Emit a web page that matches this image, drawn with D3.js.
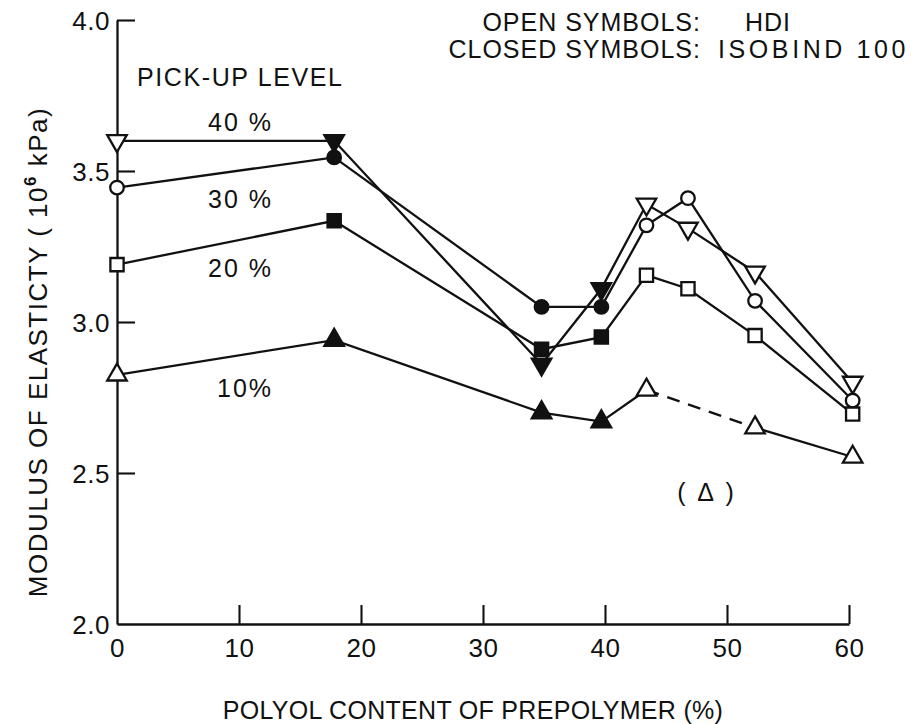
<!DOCTYPE html>
<html>
<head>
<meta charset="utf-8">
<script src="https://cdn.jsdelivr.net/npm/d3@7"></script>
<style>
  html, body { margin: 0; padding: 0; background: #fff; }
  text { font-family: "Liberation Sans", Arial, sans-serif; fill: #111; }
</style>
</head>
<body>
<svg id="chart" width="920" height="724"></svg>
<script>
// ---- data ----
const polyol = [0, 17.8, 34.8, 39.7, 43.4, 46.8, 52.3, 60.3];   // % polyol content
const pickupLevels = ["40 %", "30 %", "20 %", "10%"];
const modulus40 = [3.60, 3.60, 2.86, 3.11, 3.39, 3.31, 3.165, 2.80];
const modulus30 = [3.445, 3.545, 3.05, 3.05, 3.32, 3.41, 3.07, 2.74];
const modulus20 = [3.19, 3.335, 2.91, 2.95, 3.155, 3.11, 2.955, 2.695];
const modulus10 = [2.825, 2.94, 2.70, 2.67, 2.775, null, 2.65, 2.553];
// which points are closed symbols (ISOBIND 100) vs open (HDI)
const closedFlags = [false, true, true, true, false, false, false, false];
const xTicks = [0, 10, 20, 30, 40, 50, 60];
const yTicks = [2.0, 2.5, 3.0, 3.5, 4.0];
const xTitle = "POLYOL CONTENT OF PREPOLYMER (%)";
const yTitle = "MODULUS OF ELASTICTY ( 10";
const yTitleSup = "6";
const yTitleEnd = " kPa)";
const headerLines = [["OPEN SYMBOLS:", "HDI"], ["CLOSED SYMBOLS:", "ISOBIND 100"]];
const pickupTitle = "PICK-UP LEVEL";
const bracketNote = "( \u0394 )";

const series = [
  { label: pickupLevels[0], values: modulus40, shape: "down" },
  { label: pickupLevels[1], values: modulus30, shape: "circle" },
  { label: pickupLevels[2], values: modulus20, shape: "square" },
  { label: pickupLevels[3], values: modulus10, shape: "up", dashedFrom: 4 }
];

// ---- layout ----
const svg = d3.select("#chart");
const x = d3.scaleLinear().domain([0, 60]).range([117, 849]);
const y = d3.scaleLinear().domain([2.0, 4.0]).range([624, 20]);
const ink = "#111";
const FONT = "'Liberation Sans', Arial, sans-serif";

// axes (ticks pointing inward)
const xAxis = d3.axisBottom(x).tickValues(xTicks).tickSizeInner(-19).tickSizeOuter(0)
  .tickFormat(d3.format("d"));
const gx = svg.append("g").attr("transform", `translate(0,${y(2.0)})`).call(xAxis);
const yAxis = d3.axisLeft(y).tickValues(yTicks).tickSizeInner(-18).tickSizeOuter(0)
  .tickFormat(d3.format(".1f"));
const gy = svg.append("g").attr("transform", `translate(${x(0)},0)`).call(yAxis);
[gx, gy].forEach(g => {
  g.select(".domain").attr("stroke", ink).attr("stroke-width", 2.3);
  g.selectAll(".tick line").attr("stroke", ink).attr("stroke-width", 2.1);
  g.selectAll(".tick text").style("font-size", "26px").attr("fill", ink)
    .style("font-family", FONT).style("letter-spacing", "0.5px");
});
gx.selectAll(".tick text").attr("y", 24).attr("dy", "0.35em");
gy.selectAll(".tick text").attr("x", -7).attr("dy", "0.35em");
gx.selectAll(".tick").filter(d => d === 0).select("line").remove();
gy.selectAll(".tick").filter(d => d === 2.0).select("line").remove();

// lines
const line = d3.line().defined(d => d.v != null).x(d => x(d.x)).y(d => y(d.v));
series.forEach(s => {
  const pts = s.values.map((v, i) => ({ x: polyol[i], v }));
  if (s.dashedFrom != null) {
    const solidA = pts.slice(0, s.dashedFrom + 1);
    const rest = pts.filter((p, i) => i >= s.dashedFrom && p.v != null);
    svg.append("path").datum(solidA).attr("d", line)
      .attr("fill", "none").attr("stroke", ink).attr("stroke-width", 2.3);
    svg.append("path").datum(rest.slice(0, 2)).attr("d", line)
      .attr("fill", "none").attr("stroke", ink).attr("stroke-width", 2.5)
      .attr("stroke-dasharray", "13,9");
    svg.append("path").datum(rest.slice(1)).attr("d", line)
      .attr("fill", "none").attr("stroke", ink).attr("stroke-width", 2.3);
  } else {
    svg.append("path").datum(pts).attr("d", line)
      .attr("fill", "none").attr("stroke", ink).attr("stroke-width", 2.3);
  }
});

// markers
const symFor = {
  down: d3.symbol().type(d3.symbolTriangle).size(165),
  up: d3.symbol().type(d3.symbolTriangle).size(165),
  circle: d3.symbol().type(d3.symbolCircle).size(145),
  square: d3.symbol().type(d3.symbolSquare).size(175)
};
series.forEach(s => {
  s.values.forEach((v, i) => {
    if (v == null) return;
    const closed = closedFlags[i];
    svg.append("path")
      .attr("d", symFor[s.shape]())
      .attr("transform", `translate(${x(polyol[i])},${y(v)})` + (s.shape === "down" ? " rotate(180)" : ""))
      .attr("fill", closed ? ink : "#fff")
      .attr("stroke", ink).attr("stroke-width", 2.3);
  });
});

// annotations
const txt = (t, px, py, size, anchor, ls) => svg.append("text").attr("x", px).attr("y", py)
  .attr("text-anchor", anchor || "start").style("font-size", size + "px")
  .style("letter-spacing", (ls == null ? 1 : ls) + "px").text(t);

txt(pickupTitle, 137, 86, 25, "start", 1.6);
const levelPos = [[208, 131], [208, 208], [208, 277], [217, 397]];
series.forEach((s, i) => txt(s.label, levelPos[i][0], levelPos[i][1], 25, "start", 2));
txt(headerLines[0][0], 701, 31, 25, "end", 1);
txt(headerLines[0][1], 745, 31, 25, "start", 1);
txt(headerLines[1][0], 701, 58, 25, "end", 1);
txt(headerLines[1][1], 718, 58, 25, "start", 3.6);
txt(bracketNote, 707, 501, 25, "middle", 3);

// axis titles
txt(xTitle, 473, 719, 25, "middle", 0.3);
const yt = svg.append("text")
  .attr("transform", `translate(47,${352}) rotate(-90)`)
  .attr("text-anchor", "middle").style("font-size", "26px").style("letter-spacing", "1.5px");
yt.append("tspan").text(yTitle);
yt.append("tspan").attr("dy", -11).style("font-size", "17px").style("font-weight", "bold").text(yTitleSup);
yt.append("tspan").attr("dy", 11).text(yTitleEnd);
</script>
</body>
</html>
